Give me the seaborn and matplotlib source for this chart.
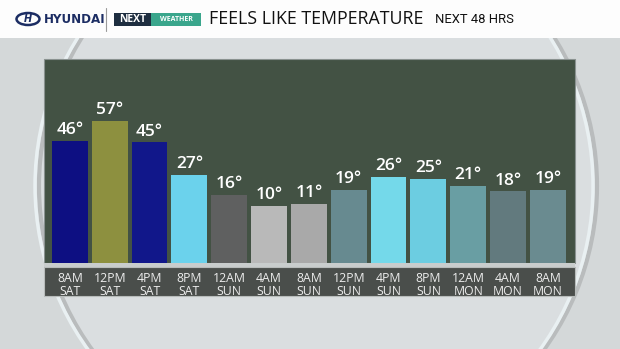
import matplotlib
matplotlib.use("Agg")
import matplotlib.pyplot as plt
import matplotlib.patches as mpatches
import seaborn as sns
import pandas as pd

times = ["8AM\nSAT", "12PM\nSAT", "4PM\nSAT", "8PM\nSAT", "12AM\nSUN", "4AM\nSUN",
         "8AM\nSUN", "12PM\nSUN", "4PM\nSUN", "8PM\nSUN", "12AM\nMON", "4AM\nMON", "8AM\nMON"]
feels_like = [46, 57, 45, 27, 16, 10, 11, 19, 26, 25, 21, 18, 19]
bar_colors = ["#0d0f82", "#8d903f", "#11178a", "#6bd2ec", "#5f6060", "#b9b9b9", "#a9a9a9",
              "#678a90", "#74d9ea", "#6ccde1", "#699ea3", "#627a7e", "#6a8b90"]
title = "FEELS LIKE TEMPERATURE"
subtitle = "NEXT 48 HRS"

# bars rise from a floor of -21.5 degrees (the chart's value-axis minimum)
FLOOR = -21.5
df = pd.DataFrame({"time": times, "temp": feels_like})
df["height"] = df["temp"] - FLOOR

sns.set_theme(style="white")
plt.rcParams["font.family"] = ["Open Sans", "DejaVu Sans"]

W, H = 620, 349
fig = plt.figure(figsize=(W / 100, H / 100), dpi=100)
fig.patch.set_facecolor("#d4d8d9")

# decoration layer in pixel coordinates
bg = fig.add_axes([0, 0, 1, 1])
bg.set_xlim(0, W)
bg.set_ylim(H, 0)
bg.axis("off")
bg.add_patch(mpatches.Circle((314, 186), 279, facecolor="#dadee0", edgecolor="none"))
bg.add_patch(mpatches.Circle((318, 186), 279, facecolor="none", edgecolor="#b9bcbd", lw=3))
bg.add_patch(mpatches.Circle((314, 186), 279, facecolor="none", edgecolor="#e9f0f2", lw=2.5))
bg.add_patch(mpatches.Rectangle((0, 0), W, 38, facecolor="#fdfdfd", edgecolor="none"))
bg.add_patch(mpatches.Rectangle((44, 59), 531, 204, facecolor="#435244", edgecolor="#8a9290", lw=0.8))
bg.add_patch(mpatches.Rectangle((44, 263), 531, 4, facecolor="#c9cdcd", edgecolor="none"))
bg.add_patch(mpatches.Rectangle((44, 267), 531, 29, facecolor="#4a4e4b", edgecolor="#b8bcbb", lw=0.8))

# header
bg.add_patch(mpatches.Ellipse((28, 19), 23, 12, facecolor="none", edgecolor="#1c2d63", lw=1.8))
bg.text(28, 19.5, "H", color="#1c2d63", fontsize=7, fontweight="bold", style="italic",
        ha="center", va="center", family=["DejaVu Sans"])
bg.text(44, 19.5, "HYUNDAI", color="#1c2d63", fontsize=8.6, fontweight="bold",
        va="center", ha="left", family=["DejaVu Sans"])
bg.plot([106, 106], [8, 31], color="#9a9a9a", lw=0.8)
bg.add_patch(mpatches.Rectangle((114, 13), 37, 13, facecolor="#1e2e40", edgecolor="none"))
bg.add_patch(mpatches.Rectangle((151, 13), 50, 13, facecolor="#3aa68c", edgecolor="none"))
bg.text(132.5, 19.8, "NEXT", color="white", fontsize=7.5, fontweight="bold", ha="center", va="center")
bg.text(176, 19.8, "WEATHER", color="white", fontsize=5, fontweight="bold", ha="center", va="center")
bg.text(209, 19.5, title, color="#111111", fontsize=12.8, ha="left", va="center")
bg.text(514, 19.5, subtitle, color="#111111", fontsize=9.4, ha="right", va="center",
        family=["Roboto", "DejaVu Sans"])

# chart
ax = fig.add_axes([44 / W, 1 - 263 / H, 531 / W, 204 / H])
ax.set_facecolor("none")
sns.barplot(data=df, x="time", y="height", hue="time", palette=bar_colors, legend=False,
            width=0.9, saturation=1, ax=ax, edgecolor="none", linewidth=0)
ax.set_xlim(-0.65, 12.68)
ax.set_ylim(0, 91 - FLOOR)
for c in ax.containers:
    ax.bar_label(c, labels=[f"{round(v + FLOOR)}°" for v in c.datavalues], color="white",
                 fontsize=12.5, fontweight="semibold", padding=2)
ax.set_xlabel("")
ax.set_ylabel("")
ax.set_yticks([])
ax.tick_params(axis="x", length=0, pad=6.5, labelsize=8.8, labelcolor="#ececec")
for t in ax.get_xticklabels():
    t.set_linespacing(0.95)
for s in ax.spines.values():
    s.set_visible(False)

fig.savefig("out.png", dpi=100)
